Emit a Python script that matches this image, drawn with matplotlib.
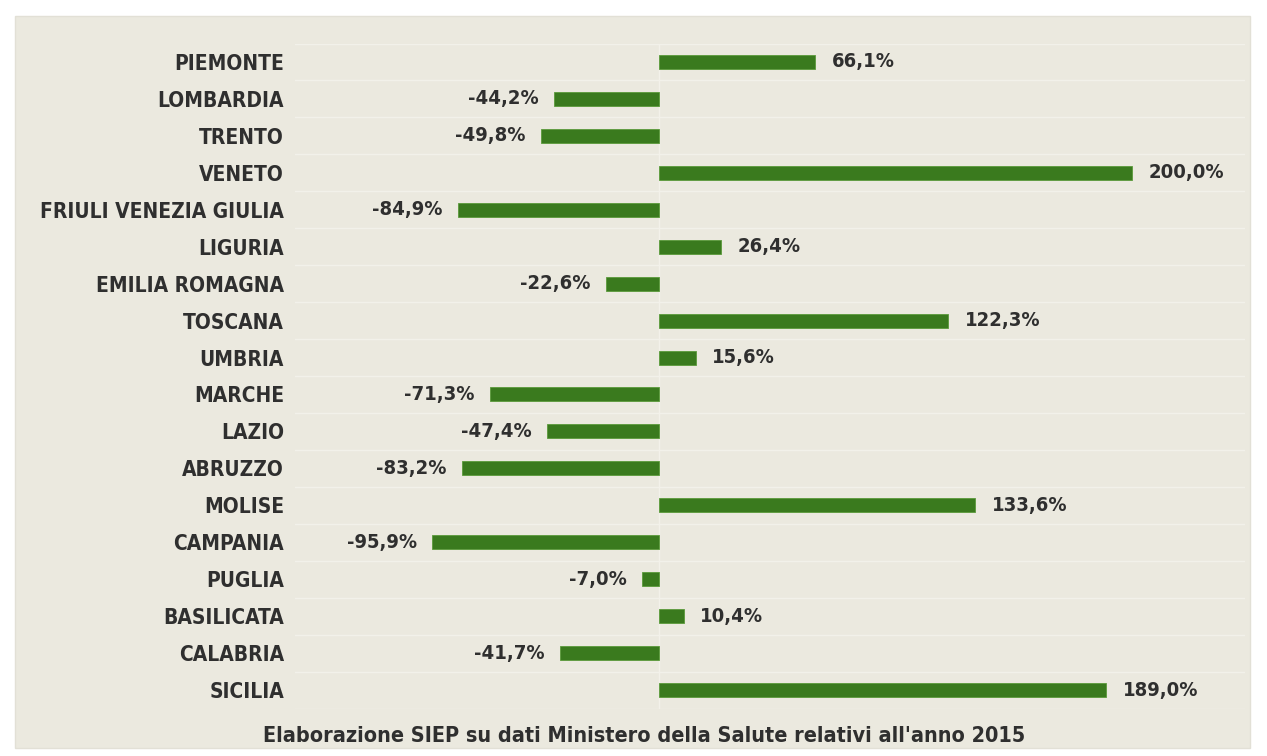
import matplotlib
matplotlib.use("Agg")
import matplotlib.pyplot as plt
from matplotlib.patches import Rectangle

regions = ["PIEMONTE", "LOMBARDIA", "TRENTO", "VENETO", "FRIULI VENEZIA GIULIA",
           "LIGURIA", "EMILIA ROMAGNA", "TOSCANA", "UMBRIA", "MARCHE", "LAZIO",
           "ABRUZZO", "MOLISE", "CAMPANIA", "PUGLIA", "BASILICATA", "CALABRIA",
           "SICILIA"]
values = [66.1, -44.2, -49.8, 200.0, -84.9, 26.4, -22.6, 122.3, 15.6, -71.3,
          -47.4, -83.2, 133.6, -95.9, -7.0, 10.4, -41.7, 189.0]
caption = "Elaborazione SIEP su dati Ministero della Salute relativi all'anno 2015"

W, H = 1267, 756
bg = "#ebe9df"
green = "#3a7a1e"
txt = "#2f2f2f"

fig = plt.figure(figsize=(W / 100, H / 100), dpi=100)
fig.patch.set_facecolor("white")
# beige panel
fig.add_artist(Rectangle((15 / W, 8 / H), 1235 / W, 732 / H, transform=fig.transFigure,
                         facecolor=bg, edgecolor="#e2e0d6", lw=1, zorder=0))

ax = fig.add_axes([295 / W, 1 - 708.5 / H, 950 / W, 665 / H])
ax.set_facecolor("none")
ypos = list(range(len(regions)))
ax.barh(ypos, values, height=0.38, color=green, edgecolor="#5a9a3a", lw=0.6, zorder=3)

ax.set_xlim(-153.9, 247.8)
ax.set_ylim(len(regions) - 0.5, -0.5)

# faint row separators
for k in range(len(regions) + 1):
    ax.axhline(k - 0.5, color="#f2f1ea", lw=1.0, zorder=1)
ax.axvline(0, color="#f3f1ea", lw=1.0, zorder=1)

fp = dict(family="DejaVu Sans", fontstretch="condensed", fontweight="bold")
for y, v in zip(ypos, values):
    lab = f"{v:.1f}%".replace(".", ",")
    if v >= 0:
        ax.text(v + 7, y, lab, ha="left", va="center", fontsize=14.5, color=txt, **fp)
    else:
        ax.text(v - 6.5, y, lab, ha="right", va="center", fontsize=14.5, color=txt, **fp)

ax.set_yticks(ypos)
ax.set_yticklabels(regions, fontsize=15, color=txt, **fp)
ax.tick_params(axis="y", length=0, pad=8)
ax.set_xticks([])
for s in ax.spines.values():
    s.set_visible(False)

fig.text(644 / W, 1 - 736 / H, caption, ha="center", va="center", fontsize=15.5,
         color=txt, **fp)

fig.savefig("out.png", dpi=100, facecolor="white")
